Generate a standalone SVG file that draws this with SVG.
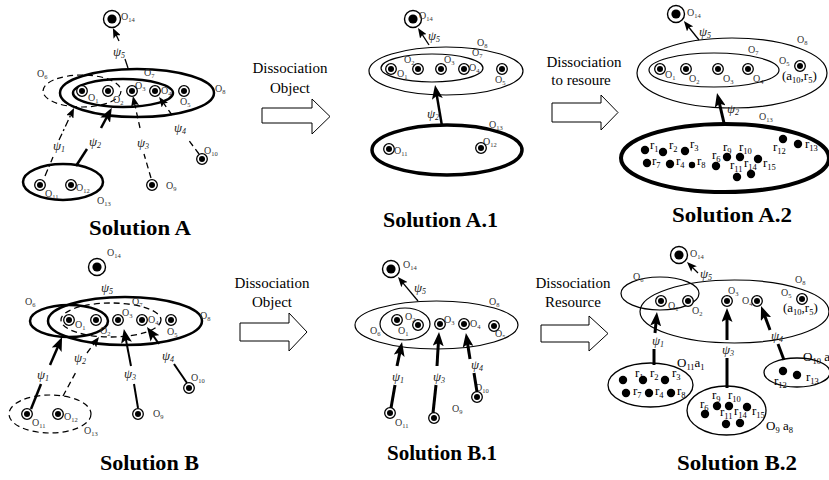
<svg xmlns="http://www.w3.org/2000/svg" xmlns:xlink="http://www.w3.org/1999/xlink" width="829" height="480" viewBox="0 0 829 480">
<style>
text{font-family:"Liberation Serif","Times New Roman",serif;fill:#000}
.o{font-size:10px;fill:#333}
.s{font-size:6.5px}
.p{font-size:13px;font-style:italic;fill:#222}
.ps{font-size:8px}
.r{font-size:13px}
.rs{font-size:8.5px}
.t{font-size:21px;font-weight:bold}
.d{font-size:15px;text-anchor:middle}
.el{fill:none;stroke:#000}
.th{stroke-width:1.2}
.tk{stroke-width:2.5}
.tk3{stroke-width:3.5}
.dsh{stroke-dasharray:6 4}
.ln{fill:none;stroke:#000}
.w1{stroke-width:1.3}
.w2{stroke-width:2}
.w3{stroke-width:3}
.dd{stroke-dasharray:7 3 2 3}
.blk{fill:#fff;stroke:#000;stroke-width:1}
</style>
<defs>
<g id="n"><circle r="5.3" fill="#fff" stroke="#000" stroke-width="1.3"/><circle r="3"/></g>
<g id="nb"><circle r="8.5" fill="#fff" stroke="#000" stroke-width="1.4"/><circle r="4.6"/></g>
<marker id="ah" viewBox="0 0 10 8" refX="5" refY="4" markerWidth="10" markerHeight="8" markerUnits="userSpaceOnUse" orient="auto"><path d="M0,0 L10,4 L0,8 L2,4 Z"/></marker>
<marker id="ahb" viewBox="0 0 14 11" refX="7" refY="5.5" markerWidth="14" markerHeight="11" markerUnits="userSpaceOnUse" orient="auto"><path d="M0,0 L14,5.5 L0,11 L3,5.5 Z"/></marker>
</defs>
<rect width="829" height="480" fill="#fff"/>

<!-- ================= Solution A ================= -->
<g id="solA">
 <g id="A-O8"><ellipse class="el tk" cx="137" cy="93" rx="77" ry="24"/><text class="o" x="215" y="92">O<tspan class="s" dy="2">8</tspan></text></g>
 <g id="A-O7"><ellipse class="el tk" cx="123" cy="93" rx="50" ry="14"/><text class="o" x="144" y="76">O<tspan class="s" dy="2">7</tspan></text></g>
 <g id="A-O6"><ellipse class="el th dsh" cx="82" cy="91" rx="39" ry="16"/><text class="o" x="37" y="77">O<tspan class="s" dy="2">6</tspan></text></g>
 <g id="A-O13"><ellipse class="el tk" cx="63" cy="182" rx="40" ry="18"/><text class="o" x="97" y="204">O<tspan class="s" dy="2">13</tspan></text></g>
 <g id="A-O14"><use xlink:href="#nb" x="112" y="19"/><text class="o" x="121" y="20">O<tspan class="s" dy="2">14</tspan></text></g>
 <g id="A-O1"><use xlink:href="#n" x="82" y="91"/><text class="o" x="88" y="101">O<tspan class="s" dy="2">1</tspan></text></g>
 <g id="A-O2"><use xlink:href="#n" x="108" y="91"/><text class="o" x="113" y="103">O<tspan class="s" dy="2">2</tspan></text></g>
 <g id="A-O3"><use xlink:href="#n" x="132" y="91"/><text class="o" x="135" y="89">O<tspan class="s" dy="2">3</tspan></text></g>
 <g id="A-O4"><use xlink:href="#n" x="155" y="91"/><text class="o" x="161" y="94">O<tspan class="s" dy="2">4</tspan></text></g>
 <g id="A-O5"><use xlink:href="#n" x="184" y="91"/><text class="o" x="180" y="105">O<tspan class="s" dy="2">5</tspan></text></g>
 <g id="A-O11"><use xlink:href="#n" x="40" y="185"/><text class="o" x="45" y="197">O<tspan class="s" dy="2">11</tspan></text></g>
 <g id="A-O12"><use xlink:href="#n" x="71" y="185"/><text class="o" x="76" y="191">O<tspan class="s" dy="2">12</tspan></text></g>
 <g id="A-O9"><use xlink:href="#n" x="152" y="185"/><text class="o" x="166" y="189">O<tspan class="s" dy="2">9</tspan></text></g>
 <g id="A-O10"><use xlink:href="#n" x="202" y="159"/><text class="o" x="204" y="154">O<tspan class="s" dy="2">10</tspan></text></g>
 <g id="A-edges">
  <path class="ln w1" d="M128,68 L125,59"/>
  <path class="ln w1" d="M119,41 L115,32.5" marker-end="url(#ah)"/>
  <path class="ln w1 dd" d="M45,176 L53,157"/>
  <path class="ln w1 dd" d="M59,140 L71.9,112.5" marker-end="url(#ah)"/>
  <path class="ln tk" d="M76,166 L87,149"/>
  <path class="ln tk" d="M101,128 L108.5,114" marker-end="url(#ahb)"/>
  <path class="ln w1 dsh" d="M151,178 L144,154"/>
  <path class="ln w1 dsh" d="M140,128 L134,101" marker-end="url(#ah)"/>
  <path class="ln w1 dsh" d="M199,154 L187,138"/>
  <path class="ln w1 dsh" d="M172,115 L162,101" marker-end="url(#ah)"/>
  <text class="p" x="113" y="56">ψ<tspan class="ps" dy="2">5</tspan></text>
  <text class="p" x="53" y="150">ψ<tspan class="ps" dy="2">1</tspan></text>
  <text class="p" x="89" y="146">ψ<tspan class="ps" dy="2">2</tspan></text>
  <text class="p" x="137" y="147">ψ<tspan class="ps" dy="2">3</tspan></text>
  <text class="p" x="174" y="132">ψ<tspan class="ps" dy="2">4</tspan></text>
 </g>
 <text class="t" x="89" y="235" textLength="102" lengthAdjust="spacingAndGlyphs">Solution A</text>
</g>

<!-- arrow A -> A.1 -->
<g id="arrow-A-A1">
 <text class="d" x="290" y="73">Dissociation</text>
 <text class="d" x="290" y="93">Object</text>
 <polygon class="blk" points="262,108 312,108 312,99 330,116.5 312,134 312,123 262,123"/>
</g>

<!-- ================= Solution A.1 ================= -->
<g id="solA1">
 <g id="A1-O8"><ellipse class="el th" cx="446" cy="71" rx="77" ry="24"/><text class="o" x="477" y="46">O<tspan class="s" dy="2">8</tspan></text></g>
 <g id="A1-O7"><ellipse class="el th" cx="432" cy="68" rx="51" ry="14"/><text class="o" x="472" y="56">O<tspan class="s" dy="2">7</tspan></text></g>
 <g id="A1-O13"><ellipse class="el tk3" cx="447" cy="150" rx="75" ry="25"/><text class="o" x="489" y="128">O<tspan class="s" dy="2">13</tspan></text></g>
 <g id="A1-O14"><use xlink:href="#nb" x="413" y="19"/><text class="o" x="419" y="19">O<tspan class="s" dy="2">14</tspan></text></g>
 <g id="A1-O1"><use xlink:href="#n" x="391" y="69"/><text class="o" x="397" y="77">O<tspan class="s" dy="2">1</tspan></text></g>
 <g id="A1-O2"><use xlink:href="#n" x="418" y="69"/><text class="o" x="404" y="63">O<tspan class="s" dy="2">2</tspan></text></g>
 <g id="A1-O3"><use xlink:href="#n" x="441" y="69"/><text class="o" x="444" y="63">O<tspan class="s" dy="2">3</tspan></text></g>
 <g id="A1-O4"><use xlink:href="#n" x="464" y="69"/><text class="o" x="469" y="71">O<tspan class="s" dy="2">4</tspan></text></g>
 <g id="A1-O5"><use xlink:href="#n" x="502" y="69"/><text class="o" x="495" y="83">O<tspan class="s" dy="2">5</tspan></text></g>
 <g id="A1-O11"><use xlink:href="#n" x="389" y="149"/><text class="o" x="394" y="154">O<tspan class="s" dy="2">11</tspan></text></g>
 <g id="A1-O12"><use xlink:href="#n" x="481" y="148"/><text class="o" x="483" y="145">O<tspan class="s" dy="2">12</tspan></text></g>
 <g id="A1-edges">
  <path class="ln w1" d="M429,45 L420.7,32.2" marker-end="url(#ah)"/>
  <path class="ln tk" d="M442,126 L436.2,91.9" marker-end="url(#ahb)"/>
  <text class="p" x="428" y="40">ψ<tspan class="ps" dy="2">5</tspan></text>
  <text class="p" x="427" y="118">ψ<tspan class="ps" dy="2">2</tspan></text>
 </g>
 <text class="t" x="383" y="227" textLength="115" lengthAdjust="spacingAndGlyphs">Solution A.1</text>
</g>

<!-- arrow A.1 -> A.2 -->
<g id="arrow-A1-A2">
 <text class="d" x="584" y="67">Dissociation</text>
 <text class="d" x="581" y="85">to resoure</text>
 <polygon class="blk" points="552,103 601,103 601,95 618,112.5 601,130 601,122 552,122"/>
</g>

<!-- ================= Solution A.2 ================= -->
<g id="solA2">
 <g id="A2-O8"><ellipse class="el th" cx="732" cy="73" rx="95" ry="35"/><text class="o" x="797" y="43">O<tspan class="s" dy="2">8</tspan></text></g>
 <g id="A2-O7"><ellipse class="el th" cx="714" cy="70" rx="65" ry="17"/><text class="o" x="748" y="53">O<tspan class="s" dy="2">7</tspan></text></g>
 <g id="A2-O13"><ellipse class="el" stroke-width="4" cx="725" cy="158" rx="104" ry="34"/><text class="o" x="759" y="120">O<tspan class="s" dy="2">13</tspan></text></g>
 <g id="A2-O14"><use xlink:href="#nb" x="676" y="14"/><text class="o" x="687" y="16">O<tspan class="s" dy="2">14</tspan></text></g>
 <g id="A2-O1"><use xlink:href="#n" x="660" y="69"/><text class="o" x="665" y="78">O<tspan class="s" dy="2">1</tspan></text></g>
 <g id="A2-O2"><use xlink:href="#n" x="686" y="69"/><text class="o" x="689" y="82">O<tspan class="s" dy="2">2</tspan></text></g>
 <g id="A2-O3"><use xlink:href="#n" x="718" y="69"/><text class="o" x="723" y="82">O<tspan class="s" dy="2">3</tspan></text></g>
 <g id="A2-O4"><use xlink:href="#n" x="748" y="69"/><text class="o" x="753" y="82">O<tspan class="s" dy="2">4</tspan></text></g>
 <g id="A2-O5"><use xlink:href="#n" x="800" y="66"/><text class="o" x="779" y="64">O<tspan class="s" dy="2">5</tspan></text>
  <text class="r" x="782" y="80">(a<tspan class="rs" dy="3">10</tspan><tspan dy="-3">,r</tspan><tspan class="rs" dy="3">5</tspan><tspan dy="-3">)</tspan></text></g>
 <g id="A2-resources">
  <circle cx="645" cy="150" r="4.2"/><circle cx="663" cy="152" r="4.2"/><circle cx="685" cy="151" r="4.2"/>
  <circle cx="647" cy="163" r="4.2"/><circle cx="670" cy="164" r="4.2"/><circle cx="692" cy="165" r="3.2"/>
  <circle cx="716" cy="166" r="4.2"/><circle cx="727" cy="157" r="4.2"/><circle cx="740" cy="157" r="4.2"/>
  <circle cx="758" cy="159" r="4.2"/><circle cx="737" cy="177" r="4.2"/><circle cx="751" cy="174" r="4.2"/>
  <circle cx="783" cy="139" r="4.2"/><circle cx="798" cy="144" r="4.2"/>
  <text class="r" x="650" y="149">r<tspan class="rs" dy="3">1</tspan></text>
  <text class="r" x="669" y="149">r<tspan class="rs" dy="3">2</tspan></text>
  <text class="r" x="690" y="148">r<tspan class="rs" dy="3">3</tspan></text>
  <text class="r" x="652" y="165">r<tspan class="rs" dy="3">7</tspan></text>
  <text class="r" x="676" y="165">r<tspan class="rs" dy="3">4</tspan></text>
  <text class="r" x="697" y="165">r<tspan class="rs" dy="3">8</tspan></text>
  <text class="r" x="712" y="159">r<tspan class="rs" dy="3">6</tspan></text>
  <text class="r" x="723" y="151">r<tspan class="rs" dy="3">9</tspan></text>
  <text class="r" x="739" y="151">r<tspan class="rs" dy="3">10</tspan></text>
  <text class="r" x="730" y="169">r<tspan class="rs" dy="3">11</tspan></text>
  <text class="r" x="744" y="167">r<tspan class="rs" dy="3">14</tspan></text>
  <text class="r" x="763" y="167">r<tspan class="rs" dy="3">15</tspan></text>
  <text class="r" x="773" y="151">r<tspan class="rs" dy="3">12</tspan></text>
  <text class="r" x="805" y="148">r<tspan class="rs" dy="3">13</tspan></text>
 </g>
 <g id="A2-edges">
  <path class="ln w1" d="M699,40 L687,25" marker-end="url(#ah)"/>
  <path class="ln w3" d="M724,123 L718.6,99.8" marker-end="url(#ahb)"/>
  <text class="p" x="699" y="36">ψ<tspan class="ps" dy="2">5</tspan></text>
  <text class="p" x="727" y="113">ψ<tspan class="ps" dy="2">2</tspan></text>
 </g>
 <text class="t" x="672" y="222" textLength="120" lengthAdjust="spacingAndGlyphs">Solution A.2</text>
</g>

<!-- ================= Solution B ================= -->
<g id="solB">
 <g id="B-O8"><ellipse class="el tk" cx="125" cy="321" rx="77" ry="24"/><text class="o" x="200" y="319">O<tspan class="s" dy="2">8</tspan></text></g>
 <g id="B-O6"><ellipse class="el tk" cx="69" cy="321" rx="39" ry="16"/><text class="o" x="25" y="305">O<tspan class="s" dy="2">6</tspan></text></g>
 <g id="B-O7"><ellipse class="el w1 dsh" cx="111" cy="320" rx="50" ry="17"/><text class="o" x="132" y="305">O<tspan class="s" dy="2">7</tspan></text></g>
 <g id="B-O13"><ellipse class="el th dsh" cx="50" cy="414" rx="41" ry="19"/><text class="o" x="84" y="434">O<tspan class="s" dy="2">13</tspan></text></g>
 <g id="B-O14"><use xlink:href="#nb" x="97" y="267"/><text class="o" x="107" y="256">O<tspan class="s" dy="2">14</tspan></text></g>
 <g id="B-O1"><use xlink:href="#n" x="69" y="320"/><text class="o" x="75" y="328">O<tspan class="s" dy="2">1</tspan></text></g>
 <g id="B-O2"><use xlink:href="#n" x="96" y="320"/><text class="o" x="100" y="334">O<tspan class="s" dy="2">2</tspan></text></g>
 <g id="B-O3"><use xlink:href="#n" x="118" y="320"/><text class="o" x="122" y="316">O<tspan class="s" dy="2">3</tspan></text></g>
 <g id="B-O4"><use xlink:href="#n" x="142" y="320"/><text class="o" x="148" y="323">O<tspan class="s" dy="2">4</tspan></text></g>
 <g id="B-O5"><use xlink:href="#n" x="171" y="320"/><text class="o" x="167" y="335">O<tspan class="s" dy="2">5</tspan></text></g>
 <g id="B-O11"><use xlink:href="#n" x="27" y="414"/><text class="o" x="32" y="426">O<tspan class="s" dy="2">11</tspan></text></g>
 <g id="B-O12"><use xlink:href="#n" x="58" y="414"/><text class="o" x="64" y="420">O<tspan class="s" dy="2">12</tspan></text></g>
 <g id="B-O9"><use xlink:href="#n" x="138" y="414"/><text class="o" x="153" y="417">O<tspan class="s" dy="2">9</tspan></text></g>
 <g id="B-O10"><use xlink:href="#n" x="189" y="388"/><text class="o" x="191" y="381">O<tspan class="s" dy="2">10</tspan></text></g>
 <g id="B-edges">
  <path class="ln tk" d="M31,409 L41,384"/>
  <path class="ln tk" d="M50,365 L59.3,343.4" marker-end="url(#ahb)"/>
  <path class="ln w1 dsh" d="M63,396 L76,372"/>
  <path class="ln w1 dsh" d="M87,353 L96,341" marker-end="url(#ah)"/>
  <path class="ln w2" d="M138,408 L134,384"/>
  <path class="ln w2" d="M131,366 L125.2,335.9" marker-end="url(#ahb)"/>
  <path class="ln w2" d="M187,383 L174,364"/>
  <path class="ln w2" d="M159,344 L151,332.7" marker-end="url(#ahb)"/>
  <text class="p" x="101" y="292">ψ<tspan class="ps" dy="2">5</tspan></text>
  <text class="p" x="37" y="379">ψ<tspan class="ps" dy="2">1</tspan></text>
  <text class="p" x="74" y="362">ψ<tspan class="ps" dy="2">2</tspan></text>
  <text class="p" x="124" y="378">ψ<tspan class="ps" dy="2">3</tspan></text>
  <text class="p" x="162" y="360">ψ<tspan class="ps" dy="2">4</tspan></text>
 </g>
 <text class="t" x="100" y="470" textLength="99" lengthAdjust="spacingAndGlyphs">Solution B</text>
</g>

<!-- arrow B -> B.1 -->
<g id="arrow-B-B1">
 <text class="d" x="272" y="288">Dissociation</text>
 <text class="d" x="272" y="307">Object</text>
 <polygon class="blk" points="240,323 289,323 289,313 307,332 289,351 289,341 240,341"/>
</g>

<!-- ================= Solution B.1 ================= -->
<g id="solB1">
 <g id="B1-O8"><ellipse class="el th" cx="436.5" cy="325" rx="81.5" ry="24"/><text class="o" x="489" y="305">O<tspan class="s" dy="2">8</tspan></text></g>
 <g id="B1-O6"><ellipse class="el th" cx="405" cy="324" rx="25" ry="16"/><text class="o" x="370" y="334">O<tspan class="s" dy="2">6</tspan></text></g>
 <g id="B1-O14"><use xlink:href="#nb" x="391" y="269"/><text class="o" x="403" y="268">O<tspan class="s" dy="2">14</tspan></text></g>
 <g id="B1-O1"><use xlink:href="#n" x="397" y="320"/><text class="o" x="398" y="334">O<tspan class="s" dy="2">1</tspan></text></g>
 <g id="B1-O2"><use xlink:href="#n" x="418" y="325"/><text class="o" x="405" y="320">O<tspan class="s" dy="2">2</tspan></text></g>
 <g id="B1-O3"><use xlink:href="#n" x="440" y="324"/><text class="o" x="444" y="323">O<tspan class="s" dy="2">3</tspan></text></g>
 <g id="B1-O4"><use xlink:href="#n" x="464" y="324"/><text class="o" x="470" y="327">O<tspan class="s" dy="2">4</tspan></text></g>
 <g id="B1-O5"><use xlink:href="#n" x="494" y="326"/><text class="o" x="495" y="337">O<tspan class="s" dy="2">5</tspan></text></g>
 <g id="B1-O11"><use xlink:href="#n" x="390" y="413"/><text class="o" x="395" y="426">O<tspan class="s" dy="2">11</tspan></text></g>
 <g id="B1-O9"><use xlink:href="#n" x="434" y="418"/><text class="o" x="452" y="412">O<tspan class="s" dy="2">9</tspan></text></g>
 <g id="B1-O10"><use xlink:href="#n" x="477" y="397"/><text class="o" x="475" y="391">O<tspan class="s" dy="2">10</tspan></text></g>
 <g id="B1-edges">
  <path class="ln w1" d="M418,301 L401.2,280.8" marker-end="url(#ah)"/>
  <path class="ln w3" d="M391,408 L395,385"/>
  <path class="ln w3" d="M397,366 L400.6,348.9" marker-end="url(#ahb)"/>
  <path class="ln w3" d="M433,413 L436,385"/>
  <path class="ln w3" d="M437,366 L438.6,339" marker-end="url(#ahb)"/>
  <path class="ln w3" d="M477,392 L474,373"/>
  <path class="ln w3" d="M470,359 L467,340" marker-end="url(#ahb)"/>
  <text class="p" x="414" y="292">ψ<tspan class="ps" dy="2">5</tspan></text>
  <text class="p" x="392" y="381">ψ<tspan class="ps" dy="2">1</tspan></text>
  <text class="p" x="433" y="381">ψ<tspan class="ps" dy="2">3</tspan></text>
  <text class="p" x="471" y="369">ψ<tspan class="ps" dy="2">4</tspan></text>
 </g>
 <text class="t" x="387" y="460" textLength="110" lengthAdjust="spacingAndGlyphs">Solution B.1</text>
</g>

<!-- arrow B.1 -> B.2 -->
<g id="arrow-B1-B2">
 <text class="d" x="573" y="288">Dissociation</text>
 <text class="d" x="573" y="307">Resource</text>
 <polygon class="blk" points="541,325 589,325 589,316 608,333.5 589,351 589,342 541,342"/>
</g>

<!-- ================= Solution B.2 ================= -->
<g id="solB2">
 <g id="B2-O8"><ellipse class="el th" cx="734.5" cy="311.5" rx="94.5" ry="31.5"/><text class="o" x="795" y="283">O<tspan class="s" dy="2">8</tspan></text></g>
 <g id="B2-O6"><ellipse class="el th" cx="660" cy="293.5" rx="39" ry="16.5"/><text class="o" x="633" y="280">O<tspan class="s" dy="2">6</tspan></text></g>
 <g id="B2-O14"><use xlink:href="#nb" x="679" y="255"/><text class="o" x="690" y="257">O<tspan class="s" dy="2">14</tspan></text></g>
 <g id="B2-O1"><use xlink:href="#n" x="661" y="301"/><text class="o" x="668" y="309">O<tspan class="s" dy="2">1</tspan></text></g>
 <g id="B2-O2"><use xlink:href="#n" x="688" y="301"/><text class="o" x="692" y="314">O<tspan class="s" dy="2">2</tspan></text></g>
 <g id="B2-O3"><use xlink:href="#n" x="727" y="301"/><text class="o" x="728" y="294">O<tspan class="s" dy="2">3</tspan></text></g>
 <g id="B2-O4"><use xlink:href="#n" x="757" y="301"/><text class="o" x="742" y="304">O<tspan class="s" dy="2">4</tspan></text></g>
 <g id="B2-O5"><use xlink:href="#n" x="802" y="299"/><text class="o" x="781" y="296">O<tspan class="s" dy="2">5</tspan></text>
  <text class="r" x="783" y="312">(a<tspan class="rs" dy="3">10</tspan><tspan dy="-3">,r</tspan><tspan class="rs" dy="3">5</tspan><tspan dy="-3">)</tspan></text></g>
 <g id="B2-O11">
  <ellipse class="el w1" cx="650.5" cy="385" rx="42.5" ry="22"/>
  <text class="r" x="677" y="367">O<tspan class="rs" dy="3">11</tspan><tspan dy="-3">a</tspan><tspan class="rs" dy="3">1</tspan></text>
  <circle cx="623" cy="380" r="4.2"/><circle cx="643" cy="380" r="4.2"/><circle cx="665" cy="380" r="4.2"/>
  <circle cx="626" cy="393" r="4.2"/><circle cx="649" cy="393" r="4.2"/><circle cx="671" cy="393" r="4.2"/>
  <text class="r" x="635" y="377">r<tspan class="rs" dy="3">1</tspan></text>
  <text class="r" x="650" y="377">r<tspan class="rs" dy="3">2</tspan></text>
  <text class="r" x="672" y="377">r<tspan class="rs" dy="3">3</tspan></text>
  <text class="r" x="633" y="395">r<tspan class="rs" dy="3">7</tspan></text>
  <text class="r" x="655" y="395">r<tspan class="rs" dy="3">4</tspan></text>
  <text class="r" x="677" y="395">r<tspan class="rs" dy="3">8</tspan></text>
 </g>
 <g id="B2-O9">
  <ellipse class="el w1" cx="726.5" cy="410.5" rx="39.5" ry="24.5"/>
  <text class="r" x="766" y="430">O<tspan class="rs" dy="3">9</tspan><tspan dy="-3"> a</tspan><tspan class="rs" dy="3">8</tspan></text>
  <circle cx="705" cy="414" r="4.2"/><circle cx="717" cy="406" r="4.2"/><circle cx="729" cy="406" r="4.2"/>
  <circle cx="747" cy="407" r="4.2"/><circle cx="726" cy="424" r="4.2"/><circle cx="740" cy="423" r="4.2"/>
  <text class="r" x="712" y="399">r<tspan class="rs" dy="3">9</tspan></text>
  <text class="r" x="728" y="399">r<tspan class="rs" dy="3">10</tspan></text>
  <text class="r" x="700" y="408">r<tspan class="rs" dy="3">6</tspan></text>
  <text class="r" x="720" y="416">r<tspan class="rs" dy="3">11</tspan></text>
  <text class="r" x="734" y="415">r<tspan class="rs" dy="3">14</tspan></text>
  <text class="r" x="752" y="415">r<tspan class="rs" dy="3">15</tspan></text>
 </g>
 <g id="B2-O10">
  <ellipse class="el w1" cx="797" cy="372.5" rx="33" ry="14.5"/>
  <text class="r" x="803" y="361">O<tspan class="rs" dy="3">10</tspan><tspan dy="-3"> a</tspan></text>
  <circle cx="783" cy="371" r="4.2"/><circle cx="797" cy="375" r="4.2"/>
  <text class="r" x="774" y="385">r<tspan class="rs" dy="3">12</tspan></text>
  <text class="r" x="806" y="381">r<tspan class="rs" dy="3">13</tspan></text>
 </g>
 <g id="B2-edges">
  <path class="ln w1" d="M698,273 L690.5,265.5" marker-end="url(#ah)"/>
  <path class="ln w3" d="M654,365 L654,349"/>
  <path class="ln w3" d="M655,333 L656.3,319" marker-end="url(#ahb)"/>
  <path class="ln w3" d="M727,388 L727,358"/>
  <path class="ln w3" d="M727,340 L727,315" marker-end="url(#ahb)"/>
  <path class="ln w3" d="M784,360 L778,344"/>
  <path class="ln w3" d="M770,330 L763.5,312.6" marker-end="url(#ahb)"/>
  <text class="p" x="700" y="278">ψ<tspan class="ps" dy="2">5</tspan></text>
  <text class="p" x="652" y="345">ψ<tspan class="ps" dy="2">1</tspan></text>
  <text class="p" x="722" y="354">ψ<tspan class="ps" dy="2">3</tspan></text>
  <text class="p" x="771" y="340">ψ<tspan class="ps" dy="2">4</tspan></text>
 </g>
 <text class="t" x="677" y="470" textLength="120" lengthAdjust="spacingAndGlyphs">Solution B.2</text>
</g>
</svg>
